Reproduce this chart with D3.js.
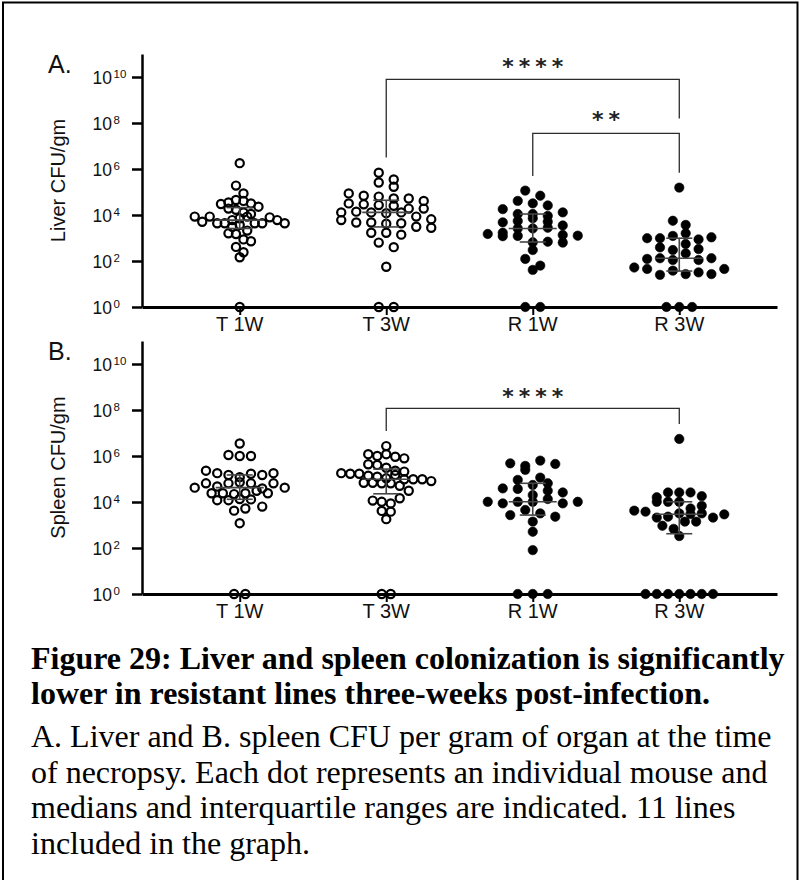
<!DOCTYPE html>
<html>
<head>
<meta charset="utf-8">
<script src="https://cdn.jsdelivr.net/npm/d3@7"></script>
<style>
  html, body { margin: 0; padding: 0; background: #fff; }
  svg { display: block; }
</style>
</head>
<body>
<svg id="fig" width="801" height="880"></svg>
<script>
// ---------------- data ----------------
const groups = ["T 1W", "T 3W", "R 1W", "R 3W"];
const openGroups = ["T 1W", "T 3W"];          // drawn as open circles
const yTickExponents = [0, 2, 4, 6, 8, 10];

// Liver CFU per gram, one value per mouse (1 = none recovered)
const liverT1W = [1.8e6, 1.9e5, 8.7e4, 3.0e4, 3.5e4, 4.5e4, 4.1e4, 3.2e4, 2.3e4, 1.9e4, 1.7e4, 1.3e4,
  8.5e3, 1.1e4, 5.1e3, 8.5e3, 4.4e3, 4.4e3, 6.0e3, 7.2e3, 8.5e3, 4.4e3, 4.4e3, 7.9e3, 6.0e3, 4.4e3,
  3.1e3, 3.7e3, 2.1e3, 1.6e3, 1.5e3, 870, 720, 410, 240, 145, 1];
const liverT3W = [6.9e5, 3.5e5, 2.6e5, 1.7e5, 8.7e4, 6.9e4, 6.3e4, 5.2e4, 5.2e4, 4.1e4, 3.2e4, 2.9e4,
  2.7e4, 2.5e4, 1.9e4, 1.9e4, 1.3e4, 1.4e4, 1.3e4, 1.2e4, 1.3e4, 8.5e3, 6.5e3, 6.0e3, 4.7e3, 4.7e3,
  4.2e3, 4.4e3, 3.1e3, 2.8e3, 1.7e3, 1.7e3, 1.4e3, 630, 400, 56, 1, 1];
const liverR1W = [1.15e5, 6.9e4, 4.1e4, 3.2e4, 2.6e4, 1.8e4, 1.1e4, 1.1e4, 9.1e3, 1.3e4, 4.8e3, 5.5e3,
  7.2e3, 5.1e3, 1.5e3, 1.7e3, 2.6e3, 2.6e3, 3.5e3, 2.8e3, 1.2e3, 1.35e3, 1.26e3, 1.23e3, 650, 690,
  630, 300, 123, 63, 41, 1, 1];
const liverR3W = [1.55e5, 5.6e3, 3.7e3, 980, 980, 1.23e3, 1.6e3, 870, 1.07e3, 390, 300, 550, 330,
  123, 132, 110, 215, 110, 132, 52, 45, 25, 38, 27, 32, 27, 45, 1, 1, 1];

// Spleen CFU per gram, one value per mouse
const spleenT1W = [3.5e6, 1.1e6, 1.0e6, 1.0e6, 2.3e5, 1.8e5, 1.5e5, 1.2e5, 1.7e5, 1.5e5, 1.8e5,
  4.2e4, 6.5e4, 4.7e4, 6.5e4, 7.2e4, 6.5e4, 3.9e4, 6.5e4, 4.2e4, 2.4e4, 2.4e4, 2.2e4, 2.4e4, 3.1e4,
  2.4e4, 1.2e4, 1.2e4, 1.35e4, 1.3e4, 4.2e3, 6.3e3, 5.2e3, 1.2e3, 1, 1];
const spleenT3W = [2.7e6, 1.2e6, 1.0e6, 1.2e6, 9.3e5, 7.9e5, 4.4e5, 4.1e5, 3.1e5, 2.3e5, 1.8e5, 2.1e5,
  1.7e5, 1.7e5, 1.4e5, 1.26e5, 1.07e5, 1.5e5, 9.8e4, 9.8e4, 9.8e4, 6.9e4, 6.9e4, 8.1e4, 6.5e4, 6.5e4,
  5.1e4, 3.1e4, 1.15e4, 1.02e4, 8.7e3, 1.45e4, 4.1e3, 3.8e3, 1.8e3, 1, 1];
const spleenR1W = [4.8e5, 3.7e5, 6.3e5, 4.5e5, 2.5e5, 9.1e4, 1.15e5, 5.5e4, 6.5e4, 3.9e4, 3.7e4,
  2.0e4, 3.1e4, 2.6e4, 1.02e4, 8.7e3, 1.02e4, 1.02e4, 1.35e4, 8.7e3, 1.02e4, 2.7e3, 4.5e3, 3.2e3,
  2.3e3, 1.4e3, 510, 81, 1, 1, 1];
const spleenR3W = [5.5e6, 1.6e4, 2.6e4, 2.6e4, 2.6e4, 1.8e4, 1.02e4, 1.02e4, 1.02e4, 5.2e3, 4.2e3,
  3.8e3, 6.8e3, 2.1e3, 2.3e3, 3.2e3, 3.0e3, 3.2e3, 2.1e3, 2.9e3, 930, 680, 1.4e3, 1.4e3, 330,
  1, 1, 1, 1, 1, 1, 1];

// Significance comparisons: [from, to, stars]
const liverComparisons = [["T 3W", "R 3W", "****"], ["R 1W", "R 3W", "**"]];
const spleenComparisons = [["T 3W", "R 3W", "****"]];

const captionBold = [
  "Figure 29: Liver and spleen colonization is significantly",
  "lower in resistant lines three-weeks post-infection."
];
const captionBody = [
  "A. Liver and B. spleen CFU per gram of organ at the time",
  "of necropsy. Each dot represents an individual mouse and",
  "medians and interquartile ranges are indicated. 11 lines",
  "included in the graph."
];

// ---------------- layout ----------------
const SANS = "'Liberation Sans', Arial, Helvetica, sans-serif";
const SERIF = "'Liberation Serif', 'Times New Roman', Times, serif";
const DECADE = 23;                 // px per decade on the log axes
const AXIS_X = 142, AXIS_RIGHT = 777;

const svg = d3.select("#fig");
svg.append("rect").attr("width", 801).attr("height", 880).attr("fill", "#fff");

// page frame (open at the bottom)
svg.append("path")
  .attr("d", "M3,880 V2.5 H797.5 V880")
  .attr("fill", "none").attr("stroke", "#000").attr("stroke-width", 2);

const x = d3.scalePoint().domain(groups).range([AXIS_X, AXIS_RIGHT]).padding(0.667);

// quartile by the (n+1)p rule
function quant(sortedAsc, p) {
  const n = sortedAsc.length, pos = (n + 1) * p;
  const lo = Math.floor(pos), f = pos - lo;
  if (lo < 1) return sortedAsc[0];
  if (lo >= n) return sortedAsc[n - 1];
  return sortedAsc[lo - 1] + f * (sortedAsc[lo] - sortedAsc[lo - 1]);
}

// column-scatter layout: bin points into rows by pixel height, spread each row around the centre
function swarm(values, y, rowH = 8, maxStep = 15, maxWidth = 90) {
  const pts = values.map((v, i) => ({ v, i, py: y(v) }));
  const sorted = pts.slice().sort((a, b) => a.py - b.py || a.i - b.i);
  const rows = [];
  let cur = null;
  for (const p of sorted) {
    if (!cur || p.py - cur.start >= rowH) { cur = { start: p.py, items: [] }; rows.push(cur); }
    cur.items.push(p);
  }
  const m = d3.max(rows, r => r.items.length);
  const step = m > 1 ? Math.min(maxStep, maxWidth / (m - 1)) : maxStep;
  rows.forEach(r => {
    r.items.sort((a, b) => a.i - b.i);
    const n = r.items.length;
    r.items.forEach((p, k) => { p.dx = (k - (n - 1) / 2) * step; });
  });
  return pts;
}

function drawPanel(cfg) {
  const base = cfg.base;
  const y = d3.scaleLog().domain([1, 1e11]).range([base, base - 11 * DECADE]);
  const g = svg.append("g");

  // dots
  cfg.series.forEach((vals, gi) => {
    const name = groups[gi];
    const cx = x(name);
    const open = openGroups.includes(name);
    const pts = swarm(vals, y);
    g.append("g").selectAll("circle").data(pts).join("circle")
      .attr("cx", d => cx + d.dx)
      .attr("cy", d => d.py)
      .attr("r", open ? 4.1 : 4.7)
      .attr("fill", open ? "none" : "#000")
      .attr("stroke", "#000")
      .attr("stroke-width", open ? 2.2 : 0.6);

    // median and interquartile range
    const s = vals.slice().sort((a, b) => a - b);
    const med = quant(s, 0.5), q1 = quant(s, 0.25), q3 = quant(s, 0.75);
    const eg = g.append("g").attr("stroke", "#454545").attr("stroke-width", 1.6);
    eg.append("line").attr("x1", cx - 24).attr("x2", cx + 24).attr("y1", y(med)).attr("y2", y(med));
    eg.append("line").attr("x1", cx - 13).attr("x2", cx + 13).attr("y1", y(q1)).attr("y2", y(q1));
    eg.append("line").attr("x1", cx - 13).attr("x2", cx + 13).attr("y1", y(q3)).attr("y2", y(q3));
    eg.append("line").attr("x1", cx).attr("x2", cx).attr("y1", y(q1)).attr("y2", y(q3));
  });

  // y axis
  const yAxis = d3.axisLeft(y)
    .tickValues(yTickExponents.map(e => Math.pow(10, e)))
    .tickFormat("").tickSize(10).tickSizeOuter(0);
  const ya = g.append("g").attr("transform", `translate(${AXIS_X},0)`).call(yAxis);
  ya.selectAll("path, line").attr("stroke", "#000").attr("stroke-width", 2.5);

  // x axis
  const xAxis = d3.axisBottom(x).tickFormat("").tickSize(8).tickSizeOuter(0);
  const xa = g.append("g").attr("transform", `translate(0,${base})`).call(xAxis);
  xa.select("path").attr("stroke", "#000").attr("stroke-width", 3);
  xa.selectAll("line").attr("stroke", "#000").attr("stroke-width", 2);

  // tick labels 10^n
  yTickExponents.forEach(e => {
    const ty = y(Math.pow(10, e));
    g.append("text").attr("x", 112).attr("y", ty + 6.5)
      .attr("text-anchor", "end").attr("font-family", SANS).attr("font-size", 17.5)
      .attr("fill", "#111").text("10");
    g.append("text").attr("x", 113.5).attr("y", ty + 0.5)
      .attr("font-family", SANS).attr("font-size", 11.5).attr("fill", "#111").text(String(e));
  });

  // category labels
  groups.forEach(name => {
    g.append("text").attr("x", x(name)).attr("y", base + 24)
      .attr("text-anchor", "middle").attr("font-family", SANS).attr("font-size", 20)
      .attr("fill", "#111").text(name);
  });

  // axis title
  g.append("text")
    .attr("transform", `translate(65,${(base + y(1e11)) / 2}) rotate(-90)`)
    .attr("text-anchor", "middle").attr("font-family", SANS).attr("font-size", 20)
    .attr("fill", "#111").text(cfg.title);

  // panel letter
  g.append("text").attr("x", 48).attr("y", base - 234)
    .attr("font-family", SANS).attr("font-size", 25).attr("fill", "#111").text(cfg.letter);

  // significance brackets
  cfg.comparisons.forEach((c, k) => {
    const L = cfg.bracketLayout[k];
    const x1 = x(c[0]), x2 = x(c[1]);
    const yt = y(Math.pow(10, L.top));
    g.append("path")
      .attr("d", `M${x1},${y(Math.pow(10, L.left))} V${yt} H${x2} V${y(Math.pow(10, L.right))}`)
      .attr("fill", "none").attr("stroke", "#2b2b2b").attr("stroke-width", 1.3);
    const fs = 22, ls = 5;
    g.append("text")
      .attr("x", (x1 + x2) / 2 + ls / 2)
      .attr("y", y(Math.pow(10, L.label)) + 0.58 * fs)
      .attr("text-anchor", "middle").attr("font-family", "'DejaVu Sans', sans-serif")
      .attr("font-weight", "bold").attr("font-size", fs)
      .attr("letter-spacing", ls).attr("fill", "#222").text(c[2]);
  });
}

drawPanel({
  base: 307, letter: "A.", title: "Liver CFU/gm",
  series: [liverT1W, liverT3W, liverR1W, liverR3W],
  comparisons: liverComparisons,
  bracketLayout: [
    { top: 9.9, left: 6.5, right: 8.2, label: 10.7 },
    { top: 7.55, left: 5.7, right: 5.84, label: 8.4 }
  ]
});

drawPanel({
  base: 594, letter: "B.", title: "Spleen CFU/gm",
  series: [spleenT1W, spleenT3W, spleenR1W, spleenR3W],
  comparisons: spleenComparisons,
  bracketLayout: [
    { top: 8.07, left: 7.09, right: 7.39, label: 8.8 }
  ]
});

// caption: a bold heading paragraph and a body paragraph
const cap = svg.append("g").attr("font-family", SERIF).attr("font-size", 32).attr("fill", "#000");
const headBase = [668.5, 704];
captionBold.forEach((t, i) => {
  cap.append("text").attr("x", 31).attr("y", headBase[i]).attr("font-weight", "bold").text(t);
});
const bodyTop = 747, bodyPitch = 35.5;
captionBody.forEach((t, i) => {
  cap.append("text").attr("x", 31).attr("y", bodyTop + i * bodyPitch).text(t);
});
</script>
</body>
</html>
